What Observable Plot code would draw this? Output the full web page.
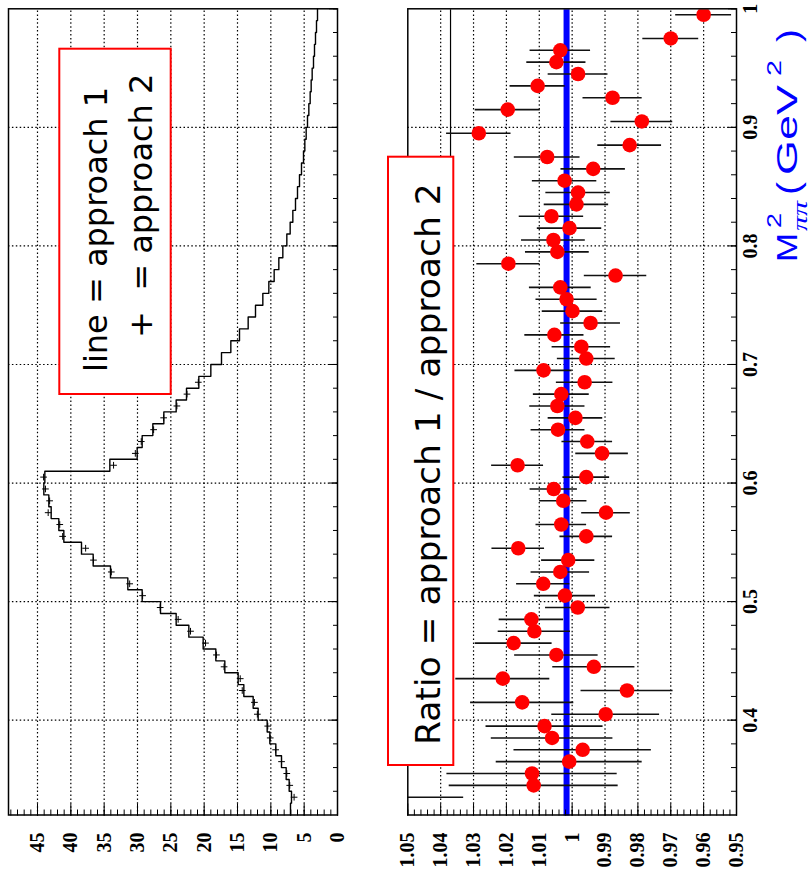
<!DOCTYPE html>
<html><head><meta charset="utf-8">
<script src="https://cdn.jsdelivr.net/npm/d3@7"></script>
<script src="https://cdn.jsdelivr.net/npm/@observablehq/plot@0.6"></script>
<style>
html,body{margin:0;padding:0;background:#fff;overflow:hidden;width:811px;height:888px}
#stage{position:absolute;left:0;top:0;width:888px;height:811px;transform-origin:0 0;transform:translate(0px,888px) rotate(-90deg);background:#fff}
#stage > svg{position:absolute;left:0;overflow:visible}
</style></head><body><div id="stage"></div>
<script>
// ---------- data ----------
const binWidth = 0.01;
const binLow = [0.32,0.33,0.34,0.35,0.36,0.37,0.38,0.39,0.40,0.41,0.42,0.43,0.44,0.45,0.46,0.47,0.48,0.49,
  0.50,0.51,0.52,0.53,0.54,0.55,0.56,0.57,0.58,0.59,0.60,0.61,0.62,0.63,0.64,0.65,0.66,0.67,0.68,0.69,
  0.70,0.71,0.72,0.73,0.74,0.75,0.76,0.77,0.78,0.79,0.80,0.81,0.82,0.83,0.84,0.85,0.86,0.87,0.88,0.89,
  0.90,0.91,0.92,0.93,0.94,0.95,0.96,0.97,0.98,0.99];
const approach1 = [7.05,6.9,7.25,7.7,8.4,9.25,10.15,10.55,11.9,12.65,14.05,14.9,16.9,18.25,20.15,22.3,24.2,26.55,
  29.3,31.45,34.05,36.65,38.4,41.05,41.8,42.95,43.3,44.05,43.9,34.15,30.05,29.3,27.7,26.05,24.2,22.65,20.8,19.0,
  17.4,16.0,14.7,13.4,12.3,11.2,10.3,9.5,8.8,8.2,7.6,7.1,6.7,6.3,6.0,5.7,5.4,5.1,4.9,4.7,
  4.5,4.3,4.1,3.95,3.8,3.6,3.45,3.3,3.15,3.0];
const ratioMass = [0.335,0.345,0.355,0.365,0.375,0.385,0.395,0.405,0.415,0.425,0.435,0.445,0.455,0.465,0.475,0.485,0.495,
  0.505,0.515,0.525,0.535,0.545,0.555,0.565,0.575,0.585,0.595,0.605,0.615,0.625,0.635,0.645,0.655,0.665,0.675,0.685,0.695,
  0.705,0.715,0.725,0.735,0.745,0.755,0.765,0.775,0.785,0.795,0.805,0.815,0.825,0.835,0.845,0.855,0.865,0.875,0.885,0.895,
  0.905,0.915,0.925,0.935,0.945,0.955,0.965,0.975,0.995];
const ratioValue = [1.060,1.0117,1.0122,1.0009,0.9968,1.0061,1.0084,0.9898,1.0152,0.9833,1.0211,0.9934,1.0048,1.0178,1.0115,1.0124,0.9983,
  1.0022,1.0088,1.0036,1.0012,1.0164,0.9957,1.0033,0.9897,1.0027,1.0056,0.9957,1.0166,0.9909,0.9954,1.0043,0.9990,1.0045,1.0033,0.9962,1.0087,
  0.9957,0.9972,1.0054,0.9944,0.9999,1.0017,1.0036,0.9868,1.0194,1.0045,1.0057,1.0008,1.0063,0.9987,0.9982,1.0023,0.9936,1.0076,0.9825,1.0284,
  0.9788,1.0196,0.9877,1.0105,0.9982,1.0048,1.0036,0.9700,0.9600];
const ratioError = [0.027,0.0257,0.0259,0.0222,0.0209,0.0185,0.0178,0.0164,0.0157,0.0140,0.0143,0.0125,0.0127,0.0117,0.0110,0.0098,0.0098,
  0.0093,0.0081,0.0089,0.0081,0.0080,0.0080,0.0077,0.0074,0.0072,0.0072,0.0071,0.0079,0.0080,0.0077,0.0082,0.0083,0.0084,0.0085,0.0086,0.0087,
  0.0088,0.0089,0.0090,0.0091,0.0092,0.0093,0.0094,0.0095,0.0096,0.0097,0.0097,0.0098,0.0098,0.0098,0.0098,0.0098,0.0098,0.0100,0.0097,0.0098,
  0.0094,0.0099,0.0090,0.0084,0.0091,0.0090,0.0092,0.0085,0.0085];
const fitRatio = 1.0017;
const ratioRefLine = {value: 1.037, from: 0.875, to: 1.0};
const approach2MaxMass = 0.685;

const massDomain = [0.32, 1.0];
const countDomain = [0, 49.35];
const ratioDomain = [0.95, 1.05];
const massTicks = [0.4,0.5,0.6,0.7,0.8,0.9,1.0];
const massTickLabels = ["0.4","0.5","0.6","0.7","0.8","0.9","1"];
const countTicks = [0,5,10,15,20,25,30,35,40,45];
const countTickLabels = ["0","5","10","15","20","25","30","35","40","45"];
const ratioTicks = [0.95,0.96,0.97,0.98,0.99,1.00,1.01,1.02,1.03,1.04,1.05];
const ratioTickLabels = ["0.95","0.96","0.97","0.98","0.99","1","1.01","1.02","1.03","1.04","1.05"];
const legendHist = ["line = approach 1", "+  = approach 2"];
const legendRatio = "Ratio = approach 1 / approach 2";

// ---------- layout ----------
const W = 888, mL = 72.5, mR = 9.3;
const frameW = W - mL - mR;
const H1 = 400, t1 = 8, b1 = 63, frameH1 = H1 - t1 - b1;
const H2 = 411, t2 = 7.3, b2 = 75, frameH2 = H2 - t2 - b2;
const axisFont = {fontFamily: "Liberation Serif", fontWeight: "bold", fontSize: 20};
const gridStyle = {stroke: "#000", strokeOpacity: 1, strokeWidth: 1.2, strokeDasharray: "1.5,2.4"};

const massMinor = d3.range(17, 51).map(i => i / 50);
const countMinor = d3.range(0, 50);
const ratioMinor = d3.range(0, 51).map(i => 0.95 + i * 0.002);

const fmt = (ticks, labels) => d => labels[ticks.findIndex(t => Math.abs(t - d) < 1e-9)];

const histData = binLow.map((x, i) => ({x, y: approach1[i]}))
  .concat([{x: binLow[binLow.length - 1] + binWidth, y: approach1[approach1.length - 1]}]);
const ratioData = ratioMass.map((m, i) => ({m, r: ratioValue[i], e: ratioError[i]}));
const approach2Data = ratioData.filter(d => d.m <= approach2MaxMass).map(d => {
  const i = Math.round((d.m - binLow[0]) / binWidth - 0.5);
  return {m: d.m, v: approach1[i] / d.r};
});

const stage = document.getElementById("stage");

// ---------- top pad: histogram ----------
const p1 = Plot.plot({
  width: W, height: H1, marginLeft: mL, marginRight: mR, marginTop: t1, marginBottom: b1,
  style: {fontFamily: "Liberation Serif", background: "transparent", overflow: "visible"},
  x: {domain: massDomain, axis: null},
  y: {domain: countDomain, axis: null},
  marks: [
    Plot.gridX(massTicks.filter(t => t < 1), gridStyle),
    Plot.gridY(countTicks.filter(t => t > 0), gridStyle),
    Plot.line(histData, {x: "x", y: "y", curve: "step-after", stroke: "#000", strokeWidth: 1.4}),
    Plot.dot(approach2Data, {x: "m", y: "v", symbol: "plus", r: 2.3, stroke: "#000", strokeWidth: 1}),
    Plot.tickX(massMinor, {x: d => d, insetTop: frameH1 - 4, stroke: "#000"}),
    Plot.tickX(massTicks, {x: d => d, insetTop: frameH1 - 8, stroke: "#000"}),
    Plot.tickY(countMinor, {y: d => d, insetRight: frameW - 6, stroke: "#000"}),
    Plot.tickY(countTicks, {y: d => d, insetRight: frameW - 12, stroke: "#000"}),
    Plot.frame({stroke: "#000", strokeWidth: 1.5}),
    Plot.axisY({ticks: countTicks, tickFormat: fmt(countTicks, countTickLabels), tickSize: 0, tickPadding: 17.5, label: null, ...axisFont})
  ]
});
p1.style.top = "0px";
p1.style.overflow = "visible";
stage.appendChild(p1);

// ---------- bottom pad: ratio ----------
const p2 = Plot.plot({
  width: W, height: H2, marginLeft: mL, marginRight: mR, marginTop: t2, marginBottom: b2,
  style: {fontFamily: "Liberation Serif", background: "transparent", overflow: "visible"},
  x: {domain: massDomain, axis: null},
  y: {domain: ratioDomain, axis: null},
  marks: [
    Plot.gridX(massTicks.filter(t => t < 1), gridStyle),
    Plot.gridY(ratioTicks.filter(t => t > 0.951 && t < 1.049), gridStyle),
    Plot.ruleY([fitRatio], {stroke: "#0000ff", strokeWidth: 6}),
    Plot.ruleY([ratioRefLine], {y: "value", x1: "from", x2: "to", stroke: "#000", strokeWidth: 1.2}),
    Plot.ruleX(ratioData, {x: "m", y1: d => d.r - d.e, y2: d => d.r + d.e, stroke: "#111", strokeWidth: 1.6, clip: true}),
    Plot.dot(ratioData, {x: "m", y: "r", r: 7.3, fill: "#ff0000", clip: true}),
    Plot.tickX(massMinor, {x: d => d, insetTop: frameH2 - 5, stroke: "#000"}),
    Plot.tickX(massTicks, {x: d => d, insetTop: frameH2 - 8, stroke: "#000"}),
    Plot.tickY(ratioMinor, {y: d => d, insetRight: frameW - 6, stroke: "#000"}),
    Plot.tickY(ratioTicks, {y: d => d, insetRight: frameW - 12, stroke: "#000"}),
    Plot.frame({stroke: "#000", strokeWidth: 1.5}),
    Plot.axisY({ticks: ratioTicks, tickFormat: fmt(ratioTicks, ratioTickLabels), tickSize: 0, tickPadding: 17.5, label: null, ...axisFont}),
    Plot.axisX({ticks: massTicks, tickFormat: fmt(massTicks, massTickLabels), tickSize: 0, tickPadding: 6, label: null, ...axisFont})
  ]
});
p2.style.top = H1 + "px";
p2.style.overflow = "visible";
stage.appendChild(p2);

// ---------- overlay: legends and axis title ----------
const ov = d3.select(stage).append("svg")
  .attr("width", W).attr("height", H1 + H2).style("top", "0px")
  .style("overflow", "visible");

// histogram legend
ov.append("rect").attr("x", 494).attr("y", 59.3).attr("width", 345.3).attr("height", 111.4)
  .attr("fill", "#fff").attr("stroke", "#ff0000").attr("stroke-width", 2);
ov.append("text").attr("x", 516).attr("y", 107).attr("font-family", "DejaVu Sans").attr("font-size", 32)
  .style("white-space", "pre").text(legendHist[0]);
ov.append("text").attr("x", 550).attr("y", 152).attr("font-family", "DejaVu Sans").attr("font-size", 32)
  .style("white-space", "pre").text(legendHist[1]);

// ratio legend
ov.append("rect").attr("x", 123).attr("y", 388).attr("width", 608.3).attr("height", 65.3)
  .attr("fill", "#fff").attr("stroke", "#ff0000").attr("stroke-width", 2);
ov.append("text").attr("x", 143).attr("y", 440).attr("font-family", "DejaVu Sans").attr("font-size", 34.5)
  .style("white-space", "pre").text(legendRatio);

// mass axis title
const tg = ov.append("g").attr("fill", "#0000ff").attr("font-family", "Liberation Sans");
const piece = (txt, x, y, size, len, extra = {}) => {
  const t = tg.append("text").attr("x", x).attr("y", y).attr("font-size", size).text(txt);
  if (len) t.attr("textLength", len).attr("lengthAdjust", "spacingAndGlyphs");
  for (const k in extra) t.attr(k, extra[k]);
  return t;
};
piece("M", 626, 797, 29, 29);
piece("2", 660, 781, 21, 15);
piece("ππ", 657, 807, 21, 30, {"font-family": "Liberation Serif", "font-style": "italic"});
piece("(", 693, 799, 31, 13);
piece("GeV", 713, 797, 30, 90);
piece("2", 812, 781, 21, 16);
piece(")", 846, 799, 31, 13);
</script>
</body></html>
